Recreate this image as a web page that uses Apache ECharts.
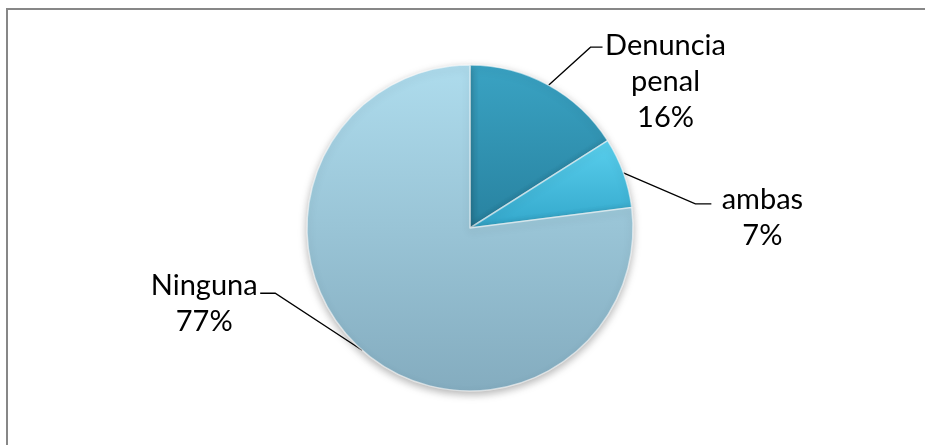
<!DOCTYPE html>
<html>
<head>
<meta charset="utf-8">
<script src="https://cdn.jsdelivr.net/npm/echarts@6/dist/echarts.min.js"></script>
<style>
  html, body { margin: 0; padding: 0; background: #fff; }
  #frame {
    position: absolute; left: 6px; top: 8px; width: 940px; height: 460px;
    border: 2px solid #878787; box-sizing: border-box;
  }
  #chart { position: absolute; left: 0; top: 0; width: 925px; height: 445px; }
</style>
</head>
<body>
<div id="frame"></div>
<div id="chart"></div>
<script>
// datos del gráfico
const categorias = ['Denuncia\npenal', 'ambas', 'Ninguna'];
const valores = [16, 7, 77];

// degradados por porción (tono claro arriba, oscuro abajo)
const colores = [
  ['#3aa3c3', '#2882a0'],
  ['#5ad0ee', '#33a7cb'],
  ['#aedced', '#84acbf']
];

// desplazamientos de la línea guía y la etiqueta respecto al borde de la porción
const guias = [
  { codo: [42, -38], fin: [12, 0], texto: [63, -2] },
  { codo: [72, 31], fin: [16, 0], texto: [51, -4] },
  { codo: [-87, -57], fin: [-15, 0], texto: [-56, -8] }
];

const chart = echarts.init(document.getElementById('chart'));

chart.setOption({
  animation: false,
  series: [{
    type: 'pie',
    center: [470, 228],
    radius: 163,
    startAngle: 90,
    clockwise: true,
    data: categorias.map((c, i) => ({
      name: c,
      value: valores[i],
      itemStyle: {
        color: new echarts.graphic.LinearGradient(0, 0, 0, 1, [
          { offset: 0, color: colores[i][0] },
          { offset: 1, color: colores[i][1] }
        ])
      }
    })),
    itemStyle: {
      borderColor: 'rgba(255,255,255,0.55)',
      borderWidth: 1.5,
      shadowBlur: 8,
      shadowOffsetY: 3,
      shadowColor: 'rgba(0,0,0,0.3)'
    },
    label: {
      position: 'outside',
      formatter: p => p.name + '\n' + p.value + '%',
      fontFamily: 'Lato',
      fontSize: 29,
      lineHeight: 36,
      color: '#000',
      align: 'center'
    },
    labelLine: {
      show: true,
      length: 40,
      length2: 12,
      lineStyle: { color: '#000', width: 1.3 }
    },
    labelLayout: function (params) {
      const g = guias[params.dataIndex];
      const p0 = params.labelLinePoints[0];
      const p1 = [p0[0] + g.codo[0], p0[1] + g.codo[1]];
      const p2 = [p1[0] + g.fin[0], p1[1] + g.fin[1]];
      return {
        x: p2[0] + g.texto[0],
        y: p2[1] + g.texto[1] - 18,
        align: 'center',
        verticalAlign: 'top',
        labelLinePoints: [p0, p1, p2]
      };
    }
  }]
});
</script>
</body>
</html>
